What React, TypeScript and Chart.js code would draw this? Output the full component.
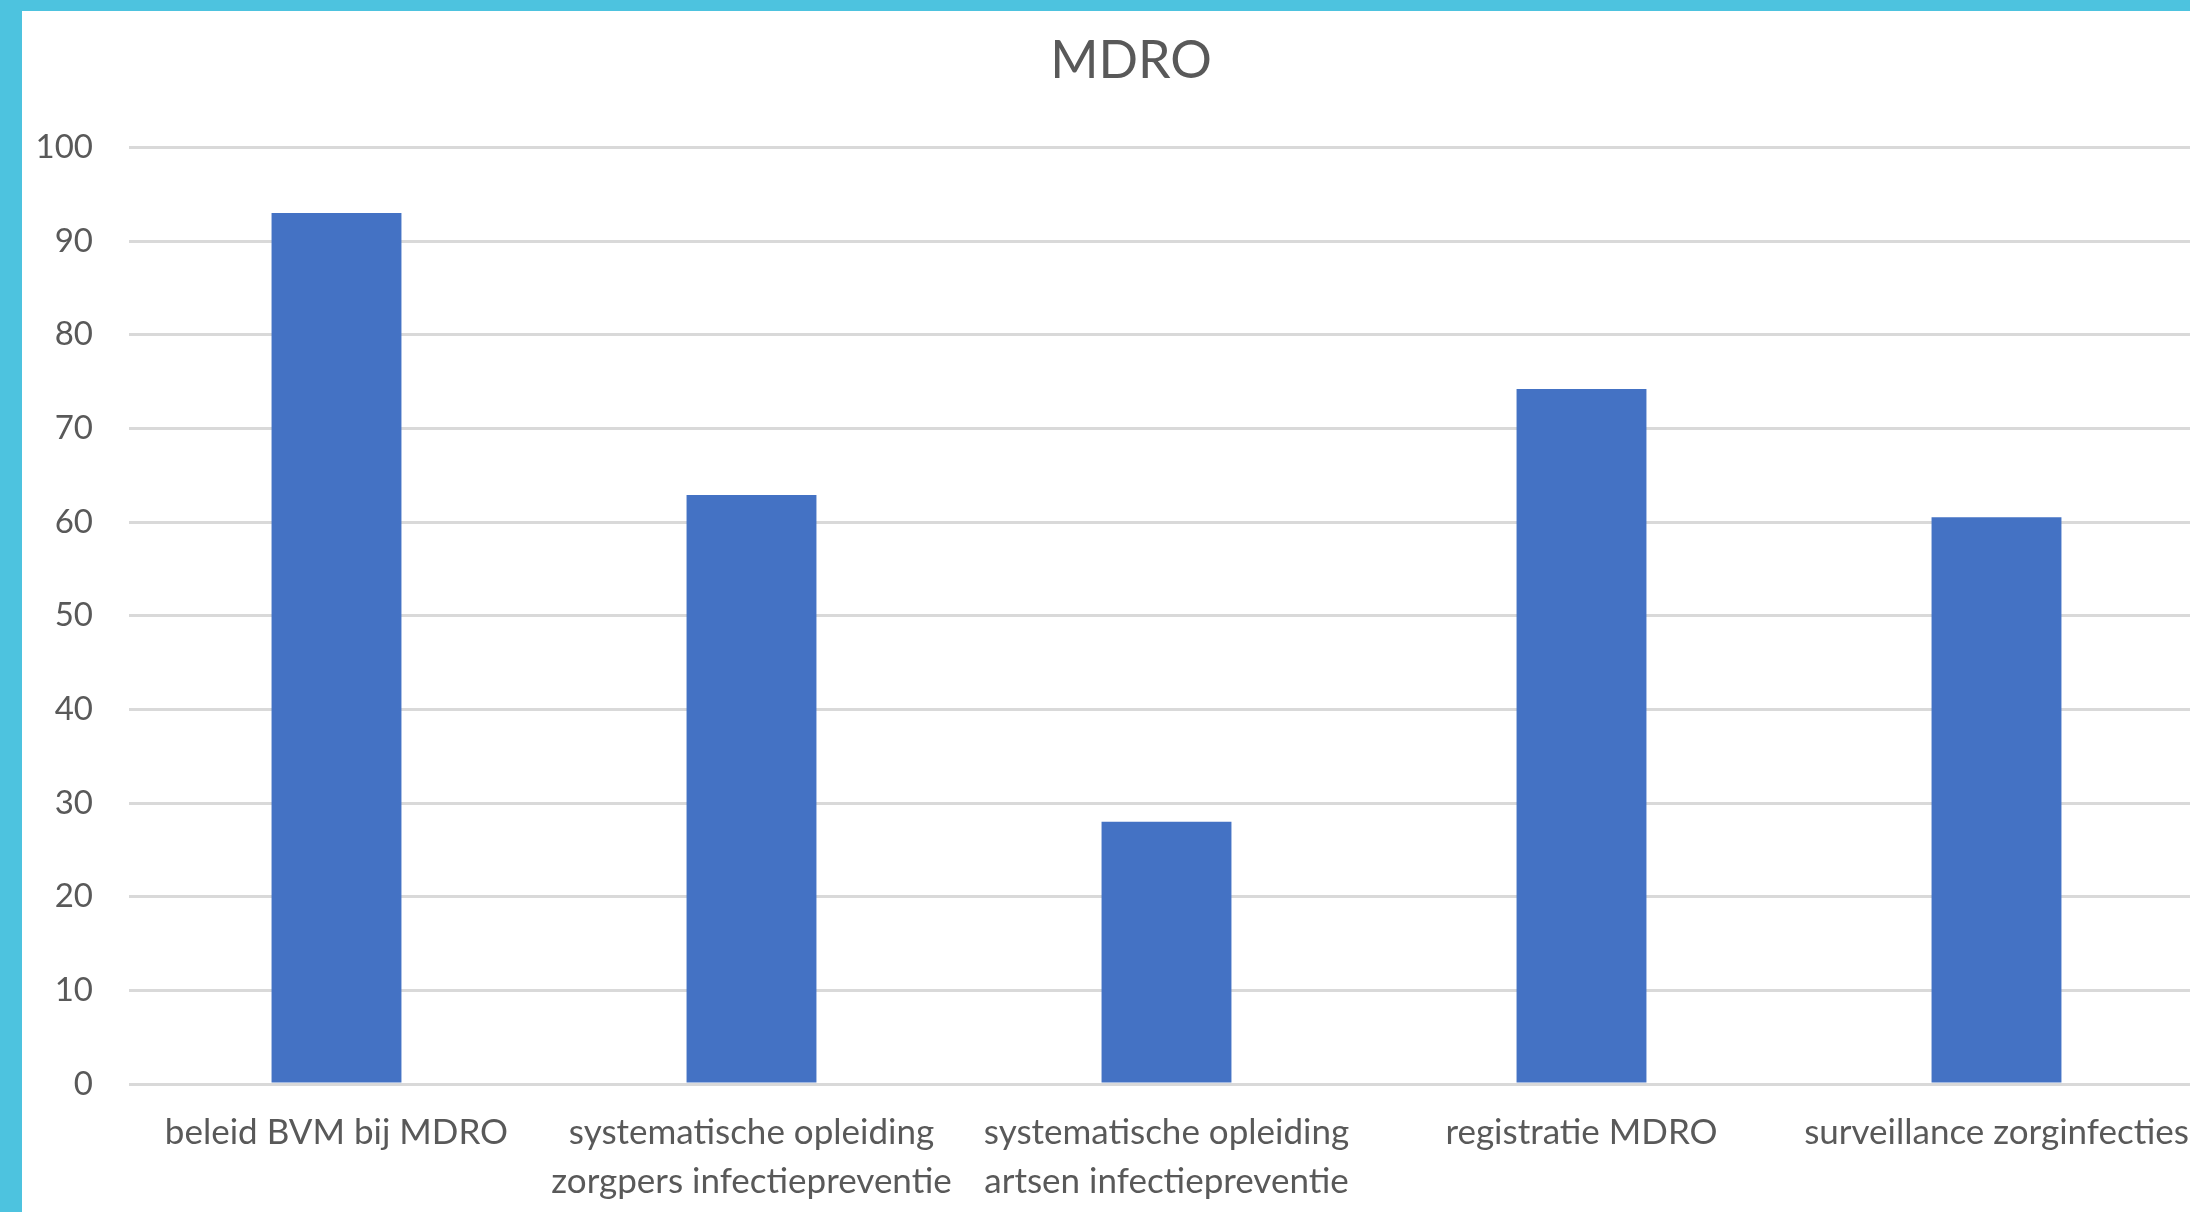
import React, { useEffect, useRef } from "react";
import { Chart, registerables } from "chart.js";

Chart.register(...registerables);

const chartTitle = "MDRO";
const categories: string[][] = [
  ["beleid BVM bij MDRO"],
  ["systematische opleiding", "zorgpers infectiepreventie"],
  ["systematische opleiding", "artsen infectiepreventie"],
  ["registratie MDRO"],
  ["surveillance zorginfecties"],
];
const values: number[] = [93.0, 62.9, 28.0, 74.2, 60.5];
const yMin = 0;
const yMax = 100;
const yStep = 10;

const FONT = "Lato, 'Open Sans', sans-serif";
const TEXT = "#595959";

export default function App() {
  const ref = useRef<HTMLCanvasElement | null>(null);

  useEffect(() => {
    if (!ref.current) return;
    const chart = new Chart(ref.current, {
      type: "bar",
      data: {
        labels: categories,
        datasets: [
          {
            label: chartTitle,
            data: values,
            backgroundColor: "#4472C4",
            borderWidth: 0,
            categoryPercentage: 1,
            barPercentage: 0.313,
            yAxisID: "y",
          },
        ],
      },
      options: {
        responsive: false,
        animation: false,
        layout: { padding: { left: 0, right: 0, top: 0, bottom: 0 } },
        plugins: {
          legend: { display: false },
          tooltip: { enabled: false },
          title: {
            display: true,
            text: chartTitle,
            color: TEXT,
            font: { family: FONT, size: 52, weight: "normal", lineHeight: 1.2 },
            padding: { top: 19, bottom: 55 },
          },
        },
        scales: {
          x: {
            afterFit: (scale: any) => {
              scale.height = 128;
            },
            grid: { display: false, drawTicks: false },
            border: { display: false },
            ticks: {
              color: TEXT,
              font: { family: FONT, size: 35, lineHeight: 1.4 },
              padding: 24,
              autoSkip: false,
              maxRotation: 0,
              minRotation: 0,
            },
          },
          y: {
            min: yMin,
            max: yMax,
            afterFit: (scale: any) => {
              scale.width = 107;
            },
            grid: { color: "#D9D9D9", lineWidth: 3, drawTicks: false },
            border: { display: false },
            ticks: {
              stepSize: yStep,
              color: TEXT,
              font: { family: FONT, size: 33 },
              padding: 36,
            },
          },
          yRight: {
            position: "right",
            display: true,
            min: yMin,
            max: yMax,
            afterFit: (scale: any) => {
              scale.width = 36;
            },
            grid: { display: false, drawTicks: false },
            border: { display: false },
            ticks: { display: false },
          },
        },
      },
    });
    return () => chart.destroy();
  }, []);

  return (
    <div
      style={{
        position: "fixed",
        left: 0,
        top: 0,
        width: 2190,
        height: 1212,
        overflow: "hidden",
        background: "#4DC3DF",
      }}
    >
      <div
        style={{
          position: "absolute",
          left: 22,
          top: 11,
          width: 2218,
          height: 1201,
          background: "#FFFFFF",
        }}
      >
        <canvas ref={ref} width={2218} height={1201} style={{ display: "block" }} />
      </div>
    </div>
  );
}
